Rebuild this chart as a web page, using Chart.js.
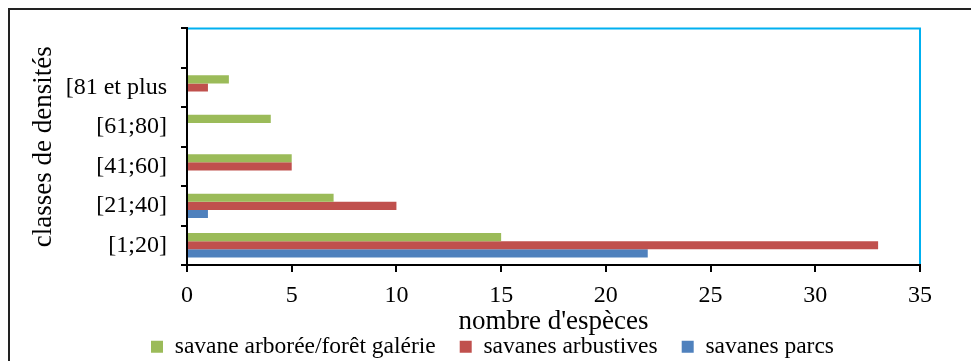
<!DOCTYPE html>
<html><head><meta charset="utf-8">
<script src="https://cdn.jsdelivr.net/npm/chart.js@4.4.1/dist/chart.umd.min.js"></script>
<style>
html,body{margin:0;padding:0;background:#fff;overflow:hidden;}
#wrap{position:relative;width:971px;height:361px;overflow:hidden;}
#frame{position:absolute;left:8px;top:8px;width:2000px;height:2000px;border-left:2px solid #222;border-top:2px solid #222;pointer-events:none;}
canvas{position:absolute;left:0;top:0;}
</style></head><body>
<div id="wrap"><canvas id="c" width="971" height="361"></canvas><div id="frame"></div></div>
<script>
const categories = ['', '[81 et plus', '[61;80]', '[41;60]', '[21;40]', '[1;20]'];
const seriesNames = ['savane arborée/forêt galérie', 'savanes arbustives', 'savanes parcs'];
const arboree = [null, 2, 4, 5, 7, 15];
const arbustives = [null, 1, 0, 5, 10, 33];
const parcs = [null, 0, 0, 0, 1, 22];
const xTicks = [0, 5, 10, 15, 20, 25, 30, 35];
const xTitle = "nombre d'espèces";
const yTitle = 'classes de densités';

const FONT = '"Liberation Serif", "Times New Roman", serif';

const blueFrame = {
  id: 'blueFrame',
  afterDraw(chart) {
    const {ctx, chartArea: a} = chart;
    ctx.save();
    ctx.strokeStyle = '#00B0F0';
    ctx.lineWidth = 2;
    ctx.beginPath();
    ctx.moveTo(a.left + 1, a.top);
    ctx.lineTo(a.right, a.top);
    ctx.lineTo(a.right, a.bottom - 1);
    ctx.stroke();
    ctx.restore();
  }
};

new Chart(document.getElementById('c'), {
  type: 'bar',
  data: {
    labels: categories,
    datasets: [
      {label: seriesNames[0], data: arboree, backgroundColor: '#9BBB59'},
      {label: seriesNames[1], data: arbustives, backgroundColor: '#C0504D'},
      {label: seriesNames[2], data: parcs, backgroundColor: '#4F81BD'}
    ]
  },
  options: {
    indexAxis: 'y',
    responsive: false,
    animation: false,
    devicePixelRatio: 1,
    layout: {padding: {left: 14, right: 0, top: 24, bottom: 0}},
    datasets: {bar: {categoryPercentage: 0.62, barPercentage: 1, borderWidth: 0}},
    plugins: {
      legend: {
        position: 'bottom',
        maxHeight: 50,
        labels: {boxWidth: 12, boxHeight: 12, padding: 24, color: '#000', font: {family: FONT, size: 23.5}}
      },
      tooltip: {enabled: false}
    },
    scales: {
      x: {
        type: 'linear', position: 'bottom', min: 0, max: 35,
        afterBuildTicks: s => { s.ticks = xTicks.map(v => ({value: v})); },
        afterFit: s => { s.height = 46; },
        grid: {drawOnChartArea: false, drawTicks: true, tickLength: 7, color: '#000', lineWidth: 2},
        border: {display: true, color: '#000', width: 2},
        ticks: {color: '#000', padding: 9, maxRotation: 0, font: {family: FONT, size: 24}},
        title: {display: true, text: xTitle, color: '#000', font: {family: FONT, size: 27}, padding: {top: 0, bottom: -27}}
      },
      y: {
        type: 'category', position: 'left', offset: true,
        afterFit: s => { s.width = 173; },
        grid: {offset: true, drawOnChartArea: false, drawTicks: true, tickLength: 6, color: '#000', lineWidth: 2},
        border: {display: true, color: '#000', width: 2},
        ticks: {color: '#000', padding: 14, autoSkip: false, font: {family: FONT, size: 24}},
        title: {display: true, text: yTitle, color: '#000', font: {family: FONT, size: 27}, padding: {top: 14, bottom: 0}}
      },
      yR: {
        type: 'linear', position: 'right', display: true,
        afterFit: s => { s.width = 51; },
        grid: {display: false}, border: {display: false}, ticks: {display: false}
      }
    }
  },
  plugins: [blueFrame]
});
</script>
</body></html>
